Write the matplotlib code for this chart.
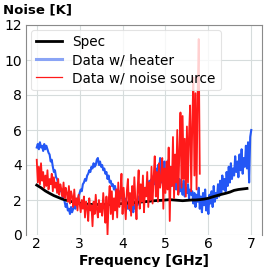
import numpy as np
import matplotlib
matplotlib.use("Agg")
import matplotlib.pyplot as plt
from matplotlib.lines import Line2D

# Spec curve (2.0 .. 6.9 GHz, step 0.1)
spec_f = [2.0, 2.1, 2.2, 2.3, 2.4, 2.5, 2.6, 2.7, 2.8, 2.9,
          3.0, 3.1, 3.2, 3.3, 3.4, 3.5, 3.6, 3.7, 3.8, 3.9,
          4.0, 4.1, 4.2, 4.3, 4.4, 4.5, 4.6, 4.7, 4.8, 4.9,
          5.0, 5.1, 5.2, 5.3, 5.4, 5.5, 5.6, 5.7, 5.8, 5.9,
          6.0, 6.1, 6.2, 6.3, 6.4, 6.5, 6.6, 6.7, 6.8, 6.9]
spec_T = [2.85, 2.70, 2.52, 2.38, 2.25, 2.15, 2.05, 1.98, 1.92, 1.86,
          1.82, 1.78, 1.76, 1.74, 1.74, 1.73, 1.74, 1.75, 1.77, 1.78,
          1.80, 1.82, 1.84, 1.86, 1.88, 1.90, 1.92, 1.95, 1.97, 1.98,
          2.00, 2.02, 2.00, 1.98, 1.96, 1.98, 2.00, 2.00, 2.02, 2.05,
          2.10, 2.18, 2.25, 2.32, 2.38, 2.45, 2.55, 2.60, 2.63, 2.66]

# Data with heater, 2.0 .. 7.0 GHz (step 0.025)
heater_T = [5.0, 5.2, 4.9, 5.3, 5.0, 5.1, 4.8, 5.2, 4.9, 5.1, 4.9,
            4.7, 4.6, 4.2, 4.3, 3.9, 3.6, 3.7, 3.3, 3.2, 2.9,
            2.8, 2.5, 2.6, 2.2, 2.1, 1.9,
            1.6, 1.8, 1.4, 1.5, 1.2, 1.6, 1.3, 1.5,
            1.7, 1.5, 1.9, 2.0, 2.2, 2.4,
            2.6, 2.5, 2.9, 3.0, 3.2, 3.1, 3.4, 3.5, 3.7, 3.6, 3.9, 3.8, 4.1, 3.9, 4.0, 4.3,
            4.4, 4.0, 4.2, 3.9,
            4.0, 3.7, 3.8, 3.5, 3.6, 3.2, 3.4, 3.0, 3.1, 2.8, 2.9, 2.6, 2.8, 2.4, 2.6, 2.2, 2.5, 2.1, 2.3, 2.0,
            1.8, 2.1, 1.6, 1.9, 1.5, 2.0, 1.4, 1.8, 1.6, 1.3, 1.9, 1.5, 2.0, 1.7, 2.2, 1.8,
            2.3, 2.0, 2.5, 2.2, 2.7, 2.3, 2.9, 2.5, 3.1, 2.6, 3.2, 2.8,
            3.4, 2.9, 3.8, 3.1, 4.0, 3.3, 4.4, 3.0, 3.9, 3.2, 4.2, 2.9, 3.8, 3.4, 4.3, 3.0, 3.6, 2.8, 3.5, 3.1,
            3.3, 2.6, 3.0, 2.4, 3.2, 2.5, 2.9, 2.3, 3.1, 2.2, 2.7, 2.4, 2.9, 2.1, 2.6, 2.3,
            2.5, 1.8, 2.4, 1.6, 2.3, 1.9, 2.7, 1.5, 2.2, 1.3, 2.4, 1.7, 2.6, 1.4, 2.0, 1.2, 2.3, 1.8, 2.5, 1.6, 2.8, 1.9, 2.4, 2.1,
            2.9, 2.2, 3.1, 2.4, 3.4, 2.6, 3.2, 2.5, 3.6, 2.8, 3.9, 3.0,
            4.1, 3.2, 3.8, 3.4, 4.5, 3.6, 4.2, 3.3, 4.6, 3.7, 4.9, 3.5, 4.4, 3.9, 5.1, 3.8, 5.3, 3.0, 5.6, 6.0]

# Data with noise source, 2.0 .. 5.8 GHz (step 0.025)
source_T = [4.3, 3.0, 3.9, 2.9, 4.1,
            3.1, 3.6, 2.7, 3.4, 2.8, 3.7, 2.6, 3.2, 2.9, 3.5, 2.5, 3.3, 2.7, 3.0, 2.4, 3.2,
            2.3, 2.9, 2.6, 2.2, 3.0, 2.1, 2.7, 2.4, 1.9, 2.8, 1.8, 2.5,
            2.2, 1.6, 2.6, 1.7, 2.1, 1.4, 2.3, 1.8,
            1.3, 2.0, 1.5, 2.2, 1.0, 1.9, 1.6, 0.8, 2.1, 1.4, 1.7, 0.5, 1.9, 1.2, 2.3, 1.5, 1.0, 2.0, 1.3, 1.8,
            1.1, 2.4, 1.5, 0.7, 2.2, 0.0, 1.9, 2.8, 1.2, 2.5, 0.9, 2.1,
            1.4, 2.6, 1.0, 3.0, 1.6, 2.3, 3.5, 1.2, 2.7, 1.8, 0.9, 2.5, 3.2, 1.5, 2.4, 1.1,
            2.8, 1.7, 3.3, 2.0, 0.9, 2.6, 3.7, 1.5, 2.9, 1.9, 3.4, 1.3, 2.7, 2.2, 3.6, 1.6,
            3.0, 2.0, 3.9, 1.8, 3.3, 4.5, 2.2, 3.6, 1.9, 4.1, 2.7, 3.2, 4.4, 1.5, 3.8, 2.4,
            4.2, 2.6, 5.0, 0.8, 3.9, 2.8, 5.6, 2.1, 4.6, 3.0, 6.0, 2.3,
            4.8, 7.0, 2.7, 6.8, 3.2, 5.5, 2.2, 6.2,
            3.0, 5.8, 7.4, 2.5, 6.3, 9.0, 3.4, 8.1, 2.6, 8.0, 11.2, 3.5]

heater_f = np.linspace(2.0, 7.0, len(heater_T))
source_f = np.linspace(2.0, 5.8, len(source_T))

x_ticks = [2, 3, 4, 5, 6, 7]
y_ticks = [0, 2, 4, 6, 8, 10, 12]

fig = plt.figure(figsize=(2.66, 2.67), dpi=100)
ax = fig.add_axes([26/266, 1 - 235/267, (262-26)/266, (235-25)/267])

ax.plot(spec_f, spec_T, color='black', lw=2.0, zorder=3)
ax.plot(heater_f, heater_T, color='#2457f5', lw=1.5, zorder=2)
ax.plot(source_f, source_T, color='#ff1a1a', lw=1.3, zorder=4)

ax.set_xlim(1.75, 7.25)
ax.set_ylim(0, 12)
ax.set_xticks(x_ticks)
ax.set_yticks(y_ticks)
ax.tick_params(axis='both', length=0, labelsize=10, colors='black')
ax.tick_params(axis='x', pad=1.5)
ax.tick_params(axis='y', pad=3)
ax.grid(True, color='#d6dcdc', lw=0.8)
ax.set_axisbelow(True)
for side in ['top', 'left', 'right']:
    ax.spines[side].set_color('#8a8a8a')
    ax.spines[side].set_linewidth(0.8)
ax.spines['bottom'].set_visible(False)

ax.set_xlabel('Frequency [GHz]', fontsize=10, fontweight='bold', labelpad=2)
fig.text(3/266, 1 - 3/267, 'Noise [K]', ha='left', va='top', fontsize=9.5, fontweight='bold')

handles = [Line2D([], [], color='black', lw=2.0),
           Line2D([], [], color='#8aa4f5', lw=2.2),
           Line2D([], [], color='#ff1a1a', lw=0.9)]
labels = ['Spec', 'Data w/ heater', 'Data w/ noise source']
leg = ax.legend(handles, labels, loc='upper left', fontsize=9.8, frameon=True,
                framealpha=0.8, edgecolor='#dddddd', handlelength=1.9,
                labelspacing=0.3, borderpad=0.37, handletextpad=0.75,
                borderaxespad=0.37)
leg.get_frame().set_linewidth(0.8)

fig.savefig('out.png', dpi=100)
